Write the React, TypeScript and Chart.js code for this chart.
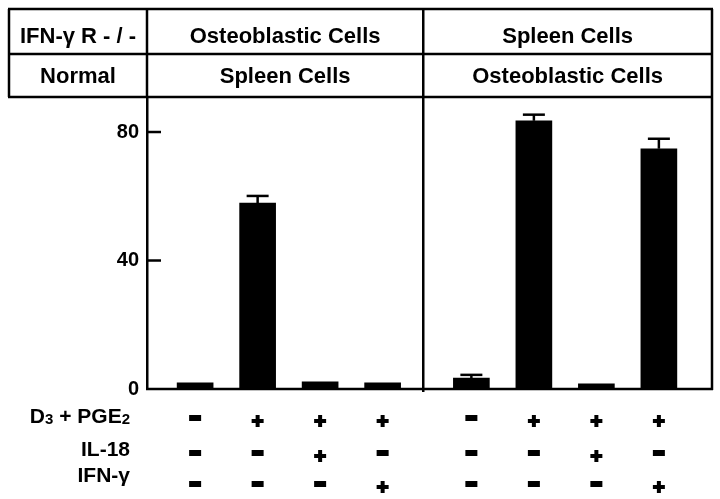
import React, { useEffect, useRef } from "react";
import { Chart, registerables } from "chart.js";

Chart.register(...registerables);

// ---------- data ----------
const CATEGORIES = [
  "KO osteoblastic + normal spleen: control",
  "KO osteoblastic + normal spleen: D3+PGE2",
  "KO osteoblastic + normal spleen: D3+PGE2+IL-18",
  "KO osteoblastic + normal spleen: D3+PGE2+IFN-γ",
  "KO spleen + normal osteoblastic: control",
  "KO spleen + normal osteoblastic: D3+PGE2",
  "KO spleen + normal osteoblastic: D3+PGE2+IL-18",
  "KO spleen + normal osteoblastic: D3+PGE2+IFN-γ",
];
const VALUES = [1.9, 57.9, 2.2, 1.9, 3.4, 83.5, 1.6, 74.8];
const ERRORS = [0, 2.2, 0, 0, 1.0, 1.9, 0, 3.1];
const GROUP_OF = [0, 0, 0, 0, 1, 1, 1, 1];
const INDEX_IN_GROUP = [0, 1, 2, 3, 0, 1, 2, 3];
const Y_TICKS = [0, 40, 80];

const HEADER_KO = ["IFN-γ R - / -", "Osteoblastic Cells", "Spleen Cells"];
const HEADER_NORMAL = ["Normal", "Spleen Cells", "Osteoblastic Cells"];

const ROW_LABELS = ["D3 + PGE2", "IL-18", "IFN-γ"];
const D3_PGE2 = ["-", "+", "+", "+", "-", "+", "+", "+"];
const IL18 = ["-", "-", "+", "-", "-", "-", "+", "-"];
const IFNG = ["-", "-", "-", "+", "-", "-", "-", "+"];
const TREATMENT_ROWS = [D3_PGE2, IL18, IFNG];

// ---------- layout ----------
const GROUP_START = [0.77, 5.19];
const X_MAX = 9.04;
const DIVIDER_X = 4.42;
const Y_MAX = 90.9;
const FONT = '"Liberation Sans", Arial, Helvetica, sans-serif';

const xPositions = INDEX_IN_GROUP.map((i, k) => GROUP_START[GROUP_OF[k]] + i);

const framePlugin = {
  id: "framePlugin",
  afterDraw(chart: any) {
    const { ctx, chartArea } = chart;
    const xs = chart.scales.x;
    const ys = chart.scales.y;
    const L = chartArea.left;
    const R = chartArea.right;
    const T = chartArea.top;
    const B = chartArea.bottom;
    const tableTop = T - 88;
    const rowMid = T - 43;
    const tableLeft = 9;
    const divX = xs.getPixelForValue(DIVIDER_X);

    ctx.save();
    ctx.strokeStyle = "#000";
    ctx.fillStyle = "#000";
    ctx.lineWidth = 2.5;
    ctx.lineCap = "butt";

    const line = (x1: number, y1: number, x2: number, y2: number) => {
      ctx.beginPath();
      ctx.moveTo(x1, y1);
      ctx.lineTo(x2, y2);
      ctx.stroke();
    };

    // table
    line(tableLeft - 1, tableTop, R + 1, tableTop);
    line(tableLeft - 1, rowMid, R + 1, rowMid);
    line(tableLeft - 1, T, R + 1, T);
    line(tableLeft, tableTop, tableLeft, T);
    line(L, tableTop, L, T);
    line(divX, tableTop, divX, B + 3);
    line(R, tableTop, R, B + 1);
    // baseline
    line(L - 1, B, R + 1, B);

    // inside tick marks
    Y_TICKS.forEach((v) => {
      if (v === 0) return;
      const y = ys.getPixelForValue(v);
      line(L, y, L + 14, y);
    });

    // table text
    ctx.font = `bold 22px ${FONT}`;
    ctx.textAlign = "center";
    ctx.textBaseline = "alphabetic";
    const colCenters = [(tableLeft + L) / 2, (L + divX) / 2, (divX + R) / 2];
    HEADER_KO.forEach((t, i) => ctx.fillText(t, colCenters[i], tableTop + 34));
    HEADER_NORMAL.forEach((t, i) => ctx.fillText(t, colCenters[i], rowMid + 29));

    // error bars
    ctx.lineWidth = 2.5;
    VALUES.forEach((v, i) => {
      const e = ERRORS[i];
      if (!e) return;
      const x = xs.getPixelForValue(xPositions[i]);
      const yTop = ys.getPixelForValue(v);
      const yErr = ys.getPixelForValue(v + e);
      line(x, yTop, x, yErr);
      line(x - 11, yErr, x + 11, yErr);
    });

    // bottom row labels
    const labelRight = 130;
    const baselines = [B + 34, B + 67, B + 93];
    const big = `bold 21px ${FONT}`;
    const small = `bold 15px ${FONT}`;
    const parts: [string, string][] = [
      ["D", big],
      ["3", small],
      [" + PGE", big],
      ["2", small],
    ];
    let total = 0;
    parts.forEach(([t, f]) => {
      ctx.font = f;
      total += ctx.measureText(t).width;
    });
    let cx = labelRight - total;
    ctx.textAlign = "left";
    parts.forEach(([t, f]) => {
      ctx.font = f;
      ctx.fillText(t, cx, baselines[0] + (f === small ? 1 : 0));
      cx += ctx.measureText(t).width;
    });
    ctx.font = big;
    ctx.textAlign = "right";
    ctx.fillText(ROW_LABELS[1], labelRight, baselines[1]);
    ctx.fillText(ROW_LABELS[2], labelRight, baselines[2]);

    // +/- symbols
    const rowCenters = [B + 30, B + 65, B + 96];
    TREATMENT_ROWS.forEach((row, r) => {
      row.forEach((s, i) => {
        const x = xs.getPixelForValue(xPositions[i]);
        if (s === "+") {
          const y = rowCenters[r] + 2;
          ctx.fillRect(x - 6, y - 2, 12, 4);
          ctx.fillRect(x - 2, y - 6, 4, 12);
        } else {
          const y = rowCenters[r] - 1;
          ctx.fillRect(x - 6, y - 3, 12, 6);
        }
      });
    });

    ctx.restore();
  },
};

export default function App() {
  const canvasRef = useRef<HTMLCanvasElement | null>(null);

  useEffect(() => {
    if (!canvasRef.current) return;
    const chart = new Chart(canvasRef.current, {
      type: "bar",
      data: {
        labels: CATEGORIES,
        datasets: [
          {
            label: "Value",
            data: VALUES.map((v, i) => ({ x: xPositions[i], y: v })),
            backgroundColor: "#000",
            borderWidth: 0,
            barThickness: 36,
          },
        ],
      },
      options: {
        responsive: false,
        animation: false,
        devicePixelRatio: 1,
        layout: { padding: { left: 0, right: 8, top: 97, bottom: 110 } },
        plugins: {
          legend: { display: false },
          tooltip: { enabled: false },
          title: { display: false },
        },
        scales: {
          x: {
            type: "linear",
            display: false,
            offset: false,
            min: 0,
            max: X_MAX,
          },
          y: {
            type: "linear",
            min: 0,
            max: Y_MAX,
            afterBuildTicks: (s: any) => {
              s.ticks = Y_TICKS.map((v) => ({ value: v }));
            },
            afterFit: (s: any) => {
              s.width = 147;
            },
            grid: { display: false, drawTicks: false },
            border: { display: true, color: "#000", width: 2.5 },
            ticks: {
              color: "#000",
              padding: 8,
              font: { family: FONT, size: 20, weight: "bold" },
            },
          },
        },
      } as any,
      plugins: [framePlugin],
    });
    return () => chart.destroy();
  }, []);

  return (
    <div style={{ position: "absolute", left: 0, top: 0, width: 720, height: 499, background: "#fff" }}>
      <canvas ref={canvasRef} width={720} height={499} style={{ display: "block" }} />
    </div>
  );
}
